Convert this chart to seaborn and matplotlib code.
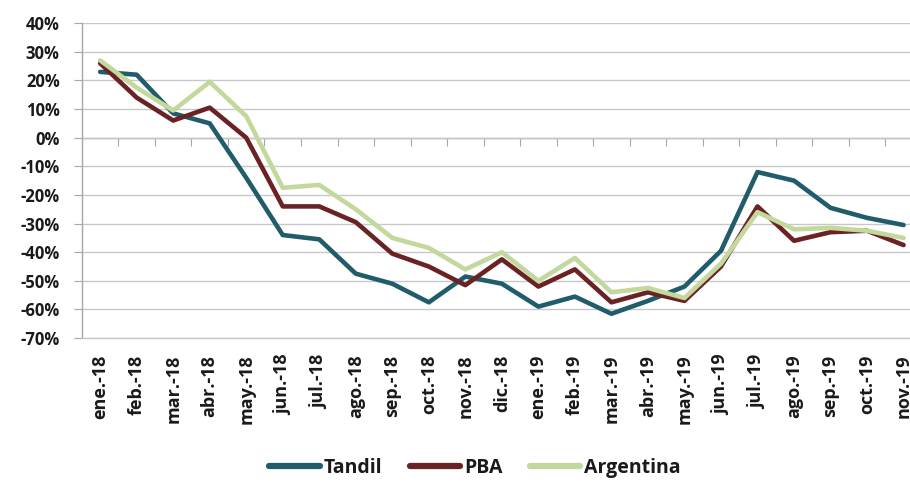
import pandas as pd
import matplotlib.pyplot as plt
import matplotlib.ticker as mticker
import seaborn as sns

# ─── Data (year-on-year change, %) ──────────────────────────────
months = ["ene.-18", "feb.-18", "mar.-18", "abr.-18", "may.-18", "jun.-18",
          "jul.-18", "ago.-18", "sep.-18", "oct.-18", "nov.-18", "dic.-18",
          "ene.-19", "feb.-19", "mar.-19", "abr.-19", "may.-19", "jun.-19",
          "jul.-19", "ago.-19", "sep.-19", "oct.-19", "nov.-19"]

tandil = [23, 22, 8.5, 5, -14, -34, -35.5, -47.5, -51, -57.5, -48.5, -51,
          -59, -55.5, -61.5, -57, -52, -39.5, -12, -15, -24.5, -28, -30.5]
pba = [26, 14, 6, 10.5, 0, -24, -24, -29.5, -40.5, -45, -51.5, -42.5,
       -52, -46, -57.5, -54, -57, -45, -24, -36, -33, -32.5, -37.5]
argentina = [27, 17.5, 9.5, 19.5, 7.5, -17.5, -16.5, -25, -35, -38.5, -46, -40,
             -50, -42, -54, -52.5, -56, -44, -26, -32, -31.5, -32.5, -35]

series_names = ["Tandil", "PBA", "Argentina"]
colors = ["#215C6A", "#6B2224", "#C3D89C"]

df = pd.DataFrame({"Tandil": tandil, "PBA": pba, "Argentina": argentina}, index=months)
long = (df.reset_index(names="mes")
          .melt(id_vars="mes", var_name="serie", value_name="valor"))
long["valor"] = long["valor"] / 100

# ─── Style ───────────────────────────────────────────────────────
sns.set_style("white")
plt.rcParams["font.family"] = ["Open Sans", "DejaVu Sans"]
plt.rcParams["text.color"] = "#1A1A1A"

GRAY = "#A6A6A6"

fig = plt.figure(figsize=(9.1, 4.83), dpi=100)
ax = fig.add_axes([0.090, 0.300, 0.923, 0.652])

sns.lineplot(data=long, x="mes", y="valor", hue="serie", hue_order=series_names,
             palette=colors, linewidth=3.3, sort=False, ax=ax, legend=False)

ax.set_xlim(-0.5, len(months) - 0.5)
ax.set_ylim(-0.70, 0.40)
ax.yaxis.set_major_locator(mticker.MultipleLocator(0.10))
ax.yaxis.set_major_formatter(mticker.FuncFormatter(lambda v, _: f"{v*100:.0f}%"))
ax.grid(axis="y", color="#C8C8C8", linewidth=1)
ax.grid(axis="x", visible=False)

for side in ["top", "right"]:
    ax.spines[side].set_visible(False)
ax.spines["left"].set_color(GRAY)
ax.spines["left"].set_linewidth(1)
ax.spines["bottom"].set_color("#C8C8C8")
ax.spines["bottom"].set_linewidth(1)

ax.tick_params(axis="y", left=True, length=6, color=GRAY, labelsize=12,
               labelcolor="#1A1A1A", pad=10)
ax.tick_params(axis="x", bottom=False, length=0, labelsize=13,
               labelcolor="#1A1A1A", pad=12)
for t in ax.get_yticklabels():
    t.set_fontweight("bold")
ax.set_xticks(range(len(months)))
ax.set_xticklabels(months, rotation=90, fontweight="bold")
ax.set_xlabel("")
ax.set_ylabel("")

# category axis crossing at 0%
zero = 0.70 / 1.10
sec = ax.secondary_xaxis(zero)
sec.spines["bottom"].set_visible(False)
sec.spines["top"].set_color(GRAY)
sec.spines["top"].set_linewidth(1)
sec.set_xticks([i + 0.5 for i in range(len(months) - 1)])
sec.xaxis.set_ticks_position("bottom")
sec.tick_params(axis="x", direction="out", length=6, color=GRAY,
                labelbottom=False, labeltop=False)
sec.set_xticklabels([])

handles = [plt.Line2D([], [], color=c, linewidth=4.5) for c in colors]
fig.legend(handles, series_names, loc="center", bbox_to_anchor=(0.522, 0.031),
           ncol=3, frameon=False, handlelength=2.6, handletextpad=0.2,
           columnspacing=1.4, borderpad=0, prop={"weight": "bold", "size": 14})

fig.savefig("out.png", dpi=100)
